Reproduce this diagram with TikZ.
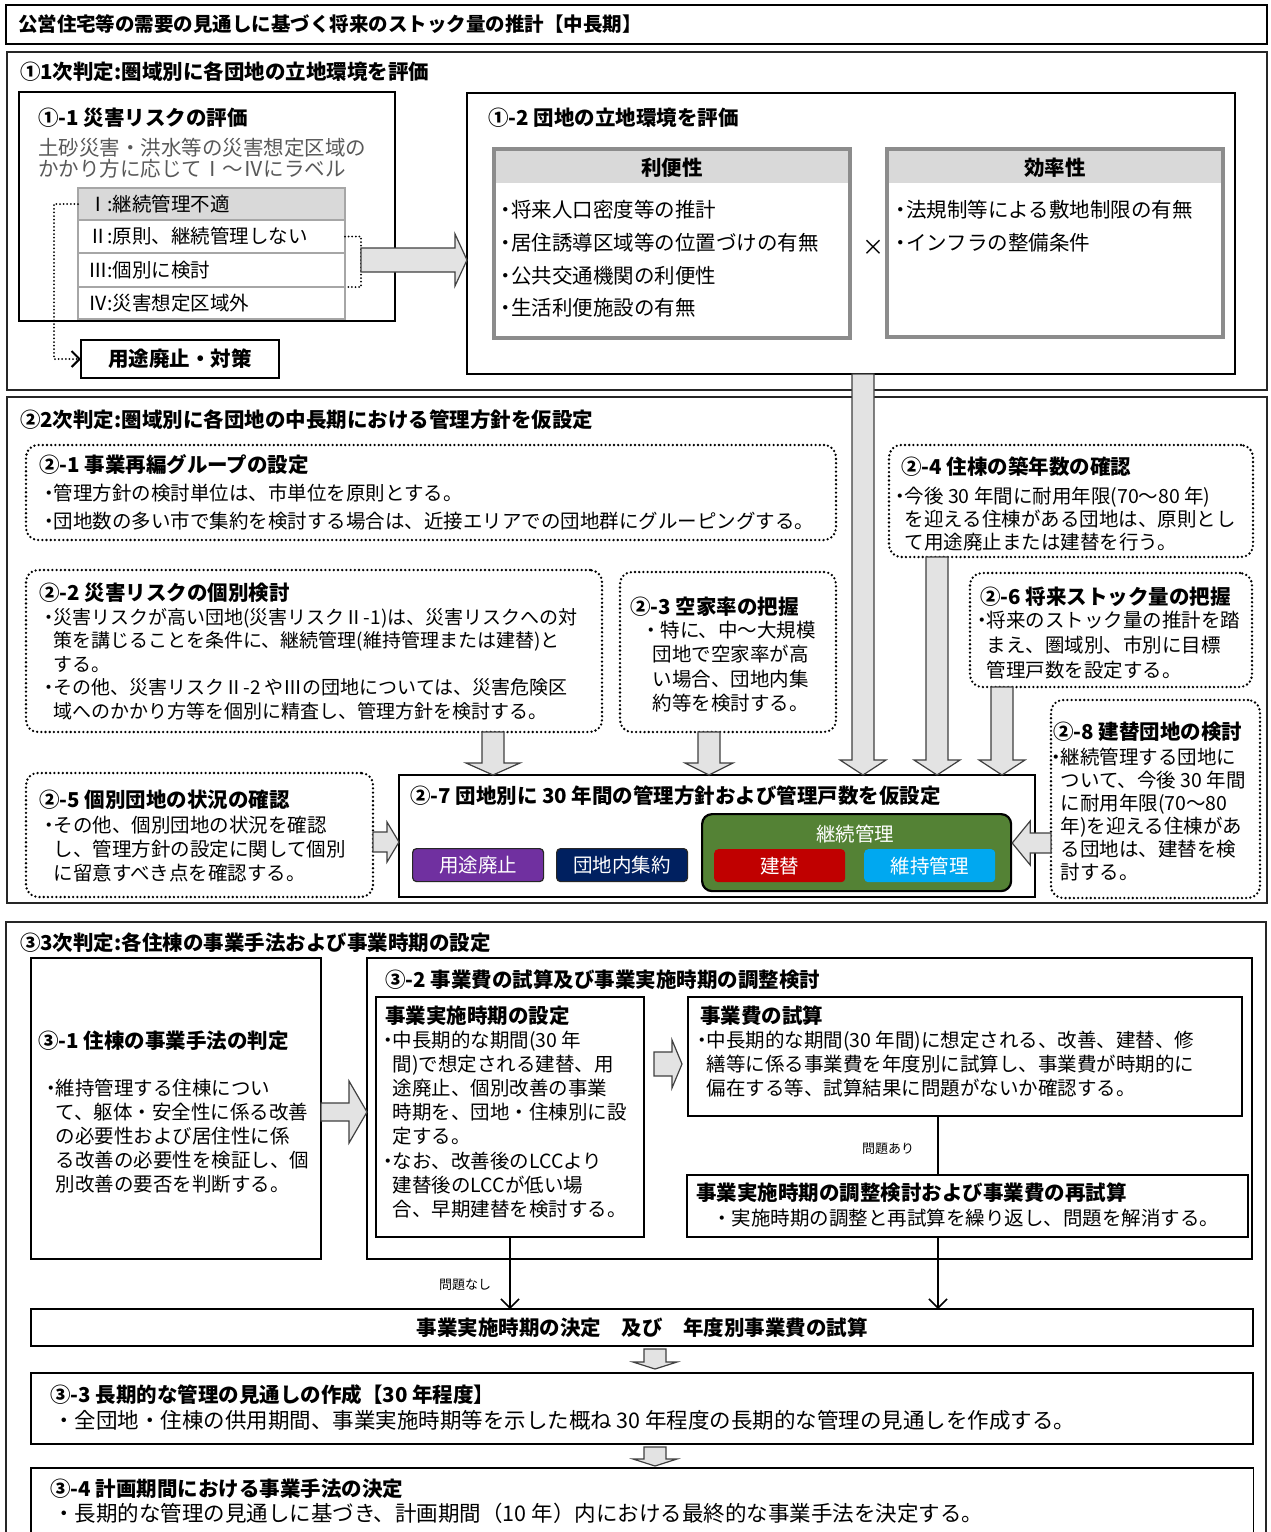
\documentclass[tikz,border=0pt]{standalone}
\usepackage{fontspec}
\setmainfont{Noto Sans CJK JP}
\usetikzlibrary{calc,arrows.meta}
\definecolor{hdrgray}{HTML}{D9D9D9}
\definecolor{bordergray}{HTML}{8C8C8C}
\definecolor{cellline}{HTML}{A6A6A6}
\definecolor{arrowfill}{HTML}{E3E3E3}
\definecolor{arrowline}{HTML}{404040}
\definecolor{txtgray}{HTML}{595959}
\definecolor{btnpurple}{HTML}{7030A0}
\definecolor{btnnavy}{HTML}{002060}
\definecolor{btngreen}{HTML}{548235}
\definecolor{btnred}{HTML}{C00000}
\definecolor{btnblue}{HTML}{00A8F0}
\newcommand\fb{\fontsize{19.5}{24}\selectfont}
\newcommand\fh{\fontsize{20.5}{24}\selectfont\bfseries}
\newcommand\jbul{\makebox[0.5em][l]{\hspace{-0.25em}・}}
\newcommand\jind{\hspace*{0.5em}}
\newcommand\mkbox[6][]{\node[#1, anchor=north west, minimum width={#5-#3}, minimum height={#6-#4}] (#2) at (#3,#4) {};}
\newcommand\fatdown[6]{\draw[fatarrow] let \p1=(#2), \p2=(#3) in (#1pt-#4pt,\y1) -- (#1pt-#4pt,\y2+#6pt) -- (#1pt-#5pt,\y2+#6pt) -- (#1pt,\y2) -- (#1pt+#5pt,\y2+#6pt) -- (#1pt+#4pt,\y2+#6pt) -- (#1pt+#4pt,\y1) -- cycle;}
\newcommand\fatright[6]{\draw[fatarrow] let \p1=(#2), \p2=(#3) in (\x1,-#1pt+#4pt) -- (\x2-#6pt,-#1pt+#4pt) -- (\x2-#6pt,-#1pt+#5pt) -- (\x2,-#1pt) -- (\x2-#6pt,-#1pt-#5pt) -- (\x2-#6pt,-#1pt-#4pt) -- (\x1,-#1pt-#4pt) -- cycle;}
\newcommand\fatleft[6]{\draw[fatarrow] let \p1=(#2), \p2=(#3) in (\x1,-#1pt+#4pt) -- (\x2+#6pt,-#1pt+#4pt) -- (\x2+#6pt,-#1pt+#5pt) -- (\x2,-#1pt) -- (\x2+#6pt,-#1pt-#5pt) -- (\x2+#6pt,-#1pt-#4pt) -- (\x1,-#1pt-#4pt) -- cycle;}
\begin{document}
\begin{tikzpicture}[x=1pt,y=-1pt,
 plainbox/.style={draw=black, line width=1.5pt, inner sep=0pt, outer sep=0pt},
 heavybox/.style={draw=black, line width=2.2pt, inner sep=0pt, outer sep=0pt},
 secbox/.style={draw=black!85, line width=2.4pt, inner sep=0pt, outer sep=0pt},
 dotbox/.style={draw=black, line width=2.6pt, line cap=round, dash pattern=on 0pt off 4.2pt, rounded corners=12pt, inner sep=0pt, outer sep=0pt},
 propbox/.style={draw=bordergray, line width=4pt, inner sep=0pt, outer sep=0pt},
 lblcell/.style={draw=cellline, line width=1.8pt, anchor=north west, text width=247pt, inner xsep=10pt, inner ysep=0pt, outer sep=0pt, align=left, font=\fb},
 fatarrow/.style={fill=arrowfill, draw=arrowline, line width=1.2pt},
 dotline/.style={line width=2pt, line cap=round, dash pattern=on 0pt off 3.6pt},
 thinarrow/.style={line width=1.5pt, -{Straight Barb[length=9pt,width=18pt]}},
 txtn/.style={anchor=west, inner sep=0pt, outer sep=0pt, align=left, font=\fb},
 hdn/.style={anchor=west, inner sep=0pt, outer sep=0pt, font=\fh},
 btnn/.style={anchor=north west, rounded corners=4pt, inner sep=0pt, text=white, font=\fb, minimum width=131pt, minimum height=33pt}]
\useasboundingbox (0,0) rectangle (1271,1532);
\fill[white] (0,0) rectangle (1271,1532);

% ---------- title
\mkbox[draw=black, line width=2pt, inner sep=0pt]{ttl}{5}{4}{1266}{43}
\node[hdn, font=\fontsize{19.5}{24}\selectfont\bfseries] (ttlt) at (18,24) {公営住宅等の需要の見通しに基づく将来のストック量の推計【中長期】};

% ---------- section 1
\mkbox[secbox]{s1}{7}{52}{1267}{390}
\node[hdn] (s1t) at (20,72) {①1次判定:圏域別に各団地の立地環境を評価};
\mkbox[plainbox]{b11}{19}{92}{395}{321}
\node[hdn] (b11t) at (38,118) {①-1 災害リスクの評価};
\node[txtn, text=txtgray, font=\fontsize{20.5}{20.5}\selectfont] (b11d) at (38,158) {土砂災害・洪水等の災害想定区域の\\かかり方に応じてⅠ～Ⅳにラベル};
\node[lblcell, fill=hdrgray, minimum height=32pt] (row1) at (78,188) {Ⅰ:継続管理不適};
\node[lblcell, minimum height=33pt] (row2) at (78,220) {Ⅱ:原則、継続管理しない};
\node[lblcell, minimum height=34pt] (row3) at (78,253) {Ⅲ:個別に検討};
\node[lblcell, minimum height=32pt] (row4) at (78,287) {Ⅳ:災害想定区域外};
\node[plainbox, anchor=north west, minimum width=198pt, minimum height=38pt, font=\fh] (yoto) at (81,340) {用途廃止・対策};
\coordinate (brk) at (361,260);
\draw[dotline, -{Straight Barb[length=8pt,width=16pt]}] (row1.west) -| ($(yoto.west)+(-27,0)$) -- (yoto.west);
\draw[dotline] (row2.east) -- (row2.east -| brk) -- (row3.south east -| brk) -- (row3.south east);

\mkbox[plainbox]{b12}{467}{93}{1235}{374}
\node[hdn] (b12t) at (488,118) {①-2 団地の立地環境を評価};
\mkbox[fill=hdrgray]{convhb}{496}{151}{848}{183}
\mkbox[propbox]{conv}{494}{149}{850}{338}
\node[font=\fh] (convh) at (672,168) {利便性};
\node[txtn, font=\fontsize{20.5}{32.7}\selectfont] (convi) at (501,259) {\jbul 将来人口密度等の推計\\\jbul 居住誘導区域等の位置づけの有無\\\jbul 公共交通機関の利便性\\\jbul 生活利便施設の有無};
\mkbox[fill=hdrgray]{effhb}{889}{151}{1221}{183}
\mkbox[propbox]{eff}{887}{149}{1223}{337}
\node[font=\fh] (effh) at (1055,168) {効率性};
\node[txtn, font=\fontsize{20.5}{33}\selectfont] (effi) at (896,226.5) {\jbul 法規制等による敷地制限の有無\\\jbul インフラの整備条件};
\node[font=\fontsize{22}{22}\selectfont] (cross) at (873,248) {×};

% ---------- section 2
\mkbox[secbox]{s2}{7}{397}{1267}{903}
\node[hdn] (s2t) at (20,420) {②2次判定:圏域別に各団地の中長期における管理方針を仮設定};
\mkbox[dotbox]{b21}{26}{445}{836}{540}
\node[hdn] (b21t) at (39,465) {②-1 事業再編グループの設定};
\node[txtn, font=\fontsize{19.5}{28}\selectfont] (b21d) at (44,507) {\jbul 管理方針の検討単位は、市単位を原則とする。\\\jbul 団地数の多い市で集約を検討する場合は、近接エリアでの団地群にグルーピングする。};

\mkbox[dotbox]{b22}{26}{570}{602}{732}
\node[hdn] (b22t) at (39,593) {②-2 災害リスクの個別検討};
\node[txtn, font=\fontsize{19}{23.5}\selectfont] (b22d) at (44,664) {\jbul 災害リスクが高い団地(災害リスクⅡ-1)は、災害リスクへの対\\\jind 策を講じることを条件に、継続管理(維持管理または建替)と\\\jind する。\\\jbul その他、災害リスクⅡ-2 やⅢの団地については、災害危険区\\\jind 域へのかかり方等を個別に精査し、管理方針を検討する。};

\mkbox[dotbox]{b23}{620}{572}{836}{732}
\node[hdn] (b23t) at (630,607) {②-3 空家率の把握};
\node[txtn, font=\fontsize{19.5}{24.3}\selectfont] (b23d) at (641,666.5) {・特に、中～大規模\\\hspace*{0.6em}団地で空家率が高\\\hspace*{0.6em}い場合、団地内集\\\hspace*{0.6em}約等を検討する。};

\mkbox[dotbox]{b24}{889}{445}{1253}{557}
\node[hdn] (b24t) at (901,467) {②-4 住棟の築年数の確認};
\node[txtn, font=\fontsize{19.5}{23}\selectfont] (b24d) at (895,519) {\jbul 今後 30 年間に耐用年限(70～80 年)\\\jind を迎える住棟がある団地は、原則とし\\\jind て用途廃止または建替を行う。};

\mkbox[dotbox]{b26}{970}{573}{1252}{687}
\node[hdn] (b26t) at (980,597) {②-6 将来ストック量の把握};
\node[txtn, font=\fontsize{19.5}{25}\selectfont] (b26d) at (977,645) {\jbul 将来のストック量の推計を踏\\\jind まえ、圏域別、市別に目標\\\jind 管理戸数を設定する。};

\mkbox[dotbox]{b28}{1051}{700}{1260}{898}
\node[hdn] (b28t) at (1053,732) {②-8 建替団地の検討};
\node[txtn, font=\fontsize{19.5}{23}\selectfont] (b28d) at (1051,814.5) {\jbul 継続管理する団地に\\\jind ついて、今後 30 年間\\\jind に耐用年限(70～80\\\jind 年)を迎える住棟があ\\\jind る団地は、建替を検\\\jind 討する。};

\mkbox[dotbox]{b25}{26}{773}{373}{897}
\node[hdn] (b25t) at (39,800) {②-5 個別団地の状況の確認};
\node[txtn, font=\fontsize{19.5}{24}\selectfont] (b25d) at (44,849) {\jbul その他、個別団地の状況を確認\\\jind し、管理方針の設定に関して個別\\\jind に留意すべき点を確認する。};

\mkbox[plainbox]{b27}{399}{775}{1035}{897}
\node[hdn] (b27t) at (410,796) {②-7 団地別に 30 年間の管理方針および管理戸数を仮設定};
\node[btnn, fill=btnpurple, draw=black!85, line width=1.2pt] (bhaishi) at (412,848) {用途廃止};
\node[btnn, fill=btnnavy, draw=black!85, line width=1.2pt] (bshuyaku) at (556,848) {団地内集約};
\mkbox[draw=black, line width=2.2pt, fill=btngreen, rounded corners=10pt]{bkeizoku}{701}{813}{1010}{890}
\node[text=white, font=\fb] (bkeizokut) at (855,834) {継続管理};
\node[btnn, fill=btnred] (btate) at (714,849) {建替};
\node[btnn, fill=btnblue] (biji) at (864,849) {維持管理};

% ---------- section 3
\draw[secbox] (6,1533) -- (6,922) -- (1266,922) -- (1266,1533);
\node[hdn] (s3t) at (20,943) {③3次判定:各住棟の事業手法および事業時期の設定};
\mkbox[plainbox]{b31}{31}{958}{321}{1259}
\node[hdn] (b31t) at (38,1041) {③-1 住棟の事業手法の判定};
\node[txtn] (b31d) at (46,1136) {\jbul 維持管理する住棟につい\\\jind て、躯体・安全性に係る改善\\\jind の必要性および居住性に係\\\jind る改善の必要性を検証し、個\\\jind 別改善の要否を判断する。};

\mkbox[plainbox]{b32}{367}{958}{1252}{1259}
\node[hdn] (b32t) at (385,980) {③-2 事業費の試算及び事業実施時期の調整検討};
\mkbox[heavybox]{bset}{376}{997}{644}{1237}
\node[hdn] (bsett) at (385,1016) {事業実施時期の設定};
\node[txtn, font=\fontsize{19.5}{24.14}\selectfont] (bsetd) at (383,1124.5) {\jbul 中長期的な期間(30 年\\\jind 間)で想定される建替、用\\\jind 途廃止、個別改善の事業\\\jind 時期を、団地・住棟別に設\\\jind 定する。\\\jbul なお、改善後のLCCより\\\jind 建替後のLCCが低い場\\\jind 合、早期建替を検討する。};

\mkbox[heavybox]{bcost}{688}{997}{1242}{1116}
\node[hdn] (bcostt) at (700,1016) {事業費の試算};
\node[txtn] (bcostd) at (697,1064) {\jbul 中長期的な期間(30 年間)に想定される、改善、建替、修\\\jind 繕等に係る事業費を年度別に試算し、事業費が時期的に\\\jind 偏在する等、試算結果に問題がないか確認する。};

\mkbox[heavybox]{badj}{687}{1175}{1248}{1237}
\node[hdn] (badjt) at (696,1193) {事業実施時期の調整検討および事業費の再試算};
\node[txtn] (badjd) at (712,1218) {・実施時期の調整と再試算を繰り返し、問題を解消する。};

\node[heavybox, anchor=north west, minimum width=1222pt, minimum height=37pt, font=\fh] (bdec) at (31,1309) {事業実施時期の決定　及び　年度別事業費の試算};
\mkbox[plainbox]{b33}{31}{1373}{1253}{1444}
\node[hdn] (b33t) at (50,1395) {③-3 長期的な管理の見通しの作成【30 年程度】};
\node[txtn, font=\fontsize{21.5}{24}\selectfont] (b33d) at (53,1420) {・全団地・住棟の供用期間、事業実施時期等を示した概ね 30 年程度の長期的な管理の見通しを作成する。};
\mkbox[inner sep=0pt]{b34}{31}{1468}{1253}{1532}
\draw[plainbox] (b34.south west) -- (b34.north west) -- (b34.north east) -- (b34.south east);
\node[hdn] (b34t) at (50,1489) {③-4 計画期間における事業手法の決定};
\node[txtn, font=\fontsize{21.5}{24}\selectfont] (b34d) at (53,1513) {・長期的な管理の見通しに基づき、計画期間（10 年）内における最終的な事業手法を決定する。};

% ---------- thin connectors
\coordinate (lx) at (938,0);
\draw[thinarrow] (bset.south) -- (bset.south |- bdec.north);
\draw[line width=1.5pt] (bcost.south -| lx) -- (badj.north -| lx);
\draw[thinarrow] (badj.south -| lx) -- (bdec.north -| lx);
\node[font=\fontsize{13}{13}\selectfont] (lblari) at (888,1149) {問題あり};
\node[font=\fontsize{13}{13}\selectfont] (lblnashi) at (465,1285) {問題なし};

% ---------- block arrows
\fatright{260}{brk}{b12.west}{12}{26}{12}
\fatdown{863}{b12.south}{b27.north}{11}{23}{15}
\fatdown{937}{b24.south}{b27.north}{11}{23}{15}
\fatdown{1002}{b26.south}{b27.north}{11}{23}{15}
\fatdown{493}{b22.south}{b27.north}{11}{27}{12}
\fatdown{709}{b23.south}{b27.north}{11}{24}{12}
\fatright{842}{b25.east}{b27.west}{10}{20}{12}
\fatleft{843}{b28.west}{bkeizoku.east}{10}{22}{18}
\fatright{1112}{b31.east}{b32.west}{9}{31}{18}
\fatright{1064}{$(bset.east)+(10,0)$}{$(bcost.west)+(-6,0)$}{12}{24}{10}
\fatdown{655}{$(bdec.south)+(0,3)$}{$(b33.north)+(0,-4)$}{11}{22}{7}
\fatdown{655}{$(b33.south)+(0,3)$}{$(b34.north)+(0,-2)$}{11}{22}{7}
\end{tikzpicture}
\end{document}
